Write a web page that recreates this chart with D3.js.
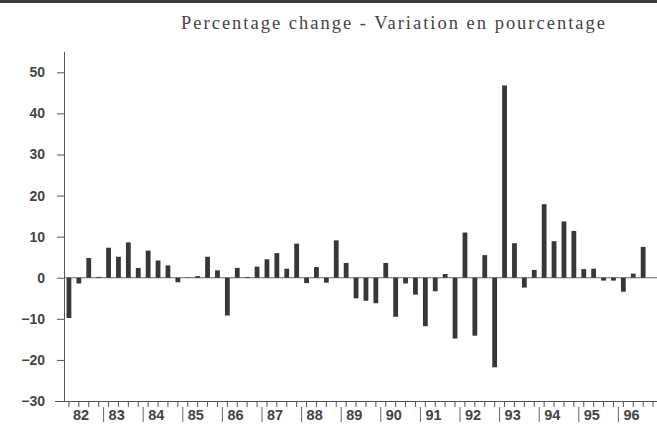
<!DOCTYPE html>
<html>
<head>
<meta charset="utf-8">
<script src="https://cdnjs.cloudflare.com/ajax/libs/d3/7.8.5/d3.min.js"></script>
<style>
  body { margin: 0; background: #fff; }
  svg { display: block; }
</style>
</head>
<body>
<div id="chart"></div>
<script>
// years on the x axis, four quarters each
var years = ['82', '83', '84', '85', '86', '87', '88', '89', '90', '91', '92', '93', '94', '95', '96'];
var quarters = [];
years.forEach(function(y) {
  for (var q = 1; q <= 4; q++) quarters.push(y + 'Q' + q);
});

// percentage change, quarter by quarter (82Q1 .. 96Q3)
var values = [
  -9.8, -1.4, 4.8, 0.2,
  7.3, 5.1, 8.6, 2.4,
  6.6, 4.2, 3.0, -1.1,
  0.1, 0.4, 5.1, 1.8,
  -9.2, 2.4, 0.2, 2.7,
  4.5, 6.0, 2.2, 8.3,
  -1.3, 2.6, -1.2, 9.1,
  3.6, -5.0, -5.6, -6.2,
  3.6, -9.5, -1.4, -4.1,
  -11.8, -3.3, 0.9, -14.8,
  11.0, -14.1, 5.5, -21.8,
  46.8, 8.4, -2.4, 1.9,
  17.9, 8.9, 13.7, 11.4,
  2.1, 2.2, -0.7, -0.7,
  -3.4, 1.0, 7.5
];

var yTicks = [-30, -20, -10, 0, 10, 20, 30, 40, 50];

var title = 'Percentage  change - Variation en pourcentage';

var W = 657, H = 434;

var svg = d3.select('#chart').append('svg')
  .attr('width', W)
  .attr('height', H);

// thin dark strip at the very top of the scan
svg.append('rect')
  .attr('x', 0).attr('y', 0)
  .attr('width', W).attr('height', 3)
  .attr('fill', '#3a3a3a');

svg.append('text')
  .attr('x', 181)
  .attr('y', 29)
  .attr('textLength', 424)
  .attr('lengthAdjust', 'spacing')
  .style('font-family', '"Liberation Serif", "Times New Roman", serif')
  .style('font-size', '18.5px')
  .attr('fill', '#444')
  .text(title);

var x = d3.scaleBand()
  .domain(quarters)
  .range([64, 658]);

var y = d3.scaleLinear()
  .domain([-30, 50])
  .range([401, 72.3]);

var axisColor = '#555';
var labelFont = '"Liberation Sans", Arial, sans-serif';

// y axis
var yAxis = svg.append('g')
  .attr('transform', 'translate(64,0)')
  .call(d3.axisLeft(y).tickValues(yTicks).tickSize(7).tickPadding(12));
yAxis.select('.domain').remove();
yAxis.selectAll('line').attr('stroke', axisColor);
yAxis.selectAll('text')
  .style('font-family', labelFont)
  .style('font-size', '14px')
  .style('font-weight', 'bold')
  .attr('fill', '#444');

svg.append('line')
  .attr('x1', 64.5).attr('x2', 64.5)
  .attr('y1', 52).attr('y2', 401)
  .attr('stroke', axisColor);

// zero line
svg.append('line')
  .attr('x1', 64).attr('x2', W)
  .attr('y1', y(0)).attr('y2', y(0))
  .attr('stroke', '#666');

// bars
svg.append('g').selectAll('rect')
  .data(values)
  .enter().append('rect')
  .attr('x', function(d, i) { return x(quarters[i]) + x.bandwidth() / 2 - 2.4; })
  .attr('width', 4.8)
  .attr('y', function(d) { return y(Math.max(0, d)); })
  .attr('height', function(d) { return Math.abs(y(d) - y(0)); })
  .attr('fill', '#363836');

// x axis with a small tick per quarter
var xAxis = svg.append('g')
  .attr('transform', 'translate(0,401)')
  .call(d3.axisBottom(x).tickSize(6).tickFormat(''));
xAxis.select('.domain').remove();
xAxis.selectAll('line').attr('stroke', axisColor);

svg.append('line')
  .attr('x1', 55).attr('x2', W)
  .attr('y1', 401.5).attr('y2', 401.5)
  .attr('stroke', axisColor);

// year labels, each after a bar separator
var yearG = svg.append('g');
years.forEach(function(yr, i) {
  var x0 = x(yr + 'Q1');
  if (i > 0) {
    yearG.append('line')
      .attr('x1', x0).attr('x2', x0)
      .attr('y1', 407).attr('y2', 422)
      .attr('stroke', '#666');
  }
  yearG.append('text')
    .attr('x', x0 + (i > 0 ? 5 : 9))
    .attr('y', 420)
    .style('font-family', labelFont)
    .style('font-size', '14.5px')
    .style('font-weight', 'bold')
    .attr('fill', '#444')
    .text(yr);
});
</script>
</body>
</html>
